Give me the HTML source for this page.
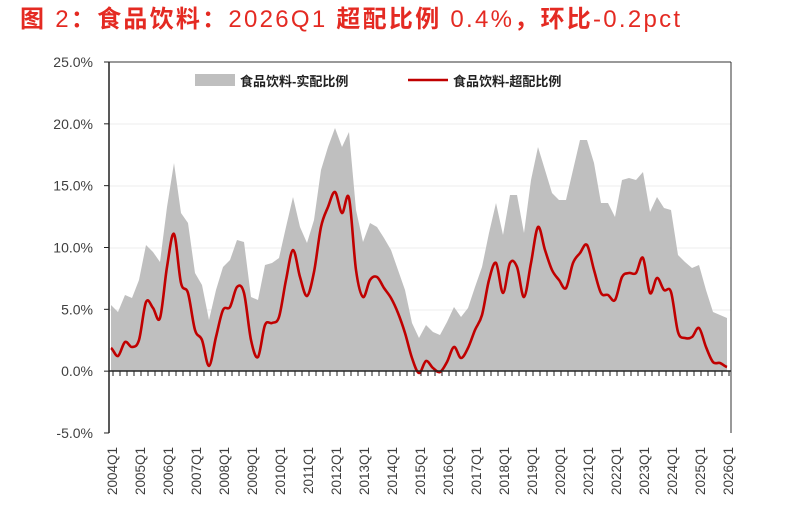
<!DOCTYPE html>
<html><head><meta charset="utf-8">
<style>
html,body{margin:0;padding:0;background:#fff;}
body{width:791px;height:514px;overflow:hidden;position:relative;}
</style></head><body>
<svg id="c" width="791" height="514" style="position:absolute;left:0;top:0" xmlns="http://www.w3.org/2000/svg" font-family="Liberation Sans, Noto Sans CJK SC, sans-serif"></svg>
<script>
const g=[305,312,295,298,280,245,252,262,207,163,213,223,273,285,320,290,267,260,240,242,297,300,265,263,258,227,197,227,243,220,170,147,128,147,132,210,242,223,227,238,250,270,290,323,338,325,332,335,322,307,317,308,287,267,233,203,235,195,195,233,180,147,170,193,200,200,170,140,140,163,203,203,217,180,178,180,172,212,197,208,210,255,262,268,265,290,312,315,318];
const r=[348,356,342,347,340,302,308,318,267,234,283,293,330,340,366,337,310,307,287,293,340,357,325,323,317,280,250,277,296,272,227,207,192,213,198,270,297,280,277,288,298,313,333,358,373,361,368,372,362,347,358,348,330,315,280,263,293,263,267,297,263,227,250,270,280,288,263,253,245,270,293,295,300,277,273,273,258,293,278,290,292,332,338,337,328,347,362,363,367];
const X=i=>111+i*7;
let s='';
s+=`<text x="20" y="27" font-size="24" fill="#e42a22" textLength="660" lengthAdjust="spacing"><tspan font-weight="bold">图</tspan> 2<tspan font-weight="bold">：食品饮料：</tspan>2026Q1 <tspan font-weight="bold">超配比例</tspan> 0.4%<tspan font-weight="bold">，环比</tspan>-0.2pct</text>`;
[124,186,248,310].forEach(y=>s+=`<line x1="109" y1="${y}" x2="731" y2="${y}" stroke="#eeeeee" stroke-width="1"/>`);
let a=`M${X(0)},371 `;g.forEach((y,i)=>a+=`L${X(i)},${y} `);a+=`L${X(88)},371 Z`;
s+=`<path d="${a}" fill="#bfbfbf"/>`;
let p=`M${X(0)},${r[0]} `;
for(let i=0;i<88;i++){const p0=r[Math.max(0,i-1)],p1=r[i],p2=r[i+1],p3=r[Math.min(88,i+2)];
const x1=X(i),x2=X(i+1);
p+=`C${x1+7/3},${p1+(p2-p0)/6} ${x2-7/3},${p2-(p3-p1)/6} ${x2},${p2} `;}
s+=`<path d="${p}" fill="none" stroke="#c00000" stroke-width="2.6" stroke-linejoin="round"/>`;
s+=`<line x1="109" y1="62" x2="731" y2="62" stroke="#333" stroke-width="1"/>`;
s+=`<line x1="731" y1="62" x2="731" y2="433" stroke="#333" stroke-width="1"/>`;
s+=`<line x1="109" y1="62" x2="109" y2="433" stroke="#222" stroke-width="1.5"/>`;
s+=`<line x1="109" y1="371" x2="731" y2="371" stroke="#222" stroke-width="1.5"/>`;
for(let i=0;i<=88;i++) s+=`<line x1="${X(i)+2}" y1="371" x2="${X(i)+2}" y2="376" stroke="#222" stroke-width="1"/>`;
const labs=['25.0%','20.0%','15.0%','10.0%','5.0%','0.0%','-5.0%'];
labs.forEach((t,k)=>{const y=62+k*61.83;
s+=`<line x1="104" y1="${y}" x2="109" y2="${y}" stroke="#222"/>`;
s+=`<text x="93" y="${y+5}" text-anchor="end" font-size="14" fill="#404040">${t}</text>`;});
for(let yr=0;yr<=22;yr++){const x=X(yr*4)+6;
s+=`<text transform="translate(${x},447) rotate(-90)" text-anchor="end" font-size="13.5" fill="#404040">${2004+yr}Q1</text>`;}
s+=`<rect x="195" y="74" width="40" height="12" fill="#bfbfbf"/>`;
s+=`<text x="240" y="86" font-size="13" font-weight="bold" fill="#222">食品饮料-实配比例</text>`;
s+=`<line x1="408" y1="80" x2="448" y2="80" stroke="#c00000" stroke-width="2.6"/>`;
s+=`<text x="453" y="86" font-size="13" font-weight="bold" fill="#222">食品饮料-超配比例</text>`;
document.getElementById('c').innerHTML=s;
</script>
</body></html>
